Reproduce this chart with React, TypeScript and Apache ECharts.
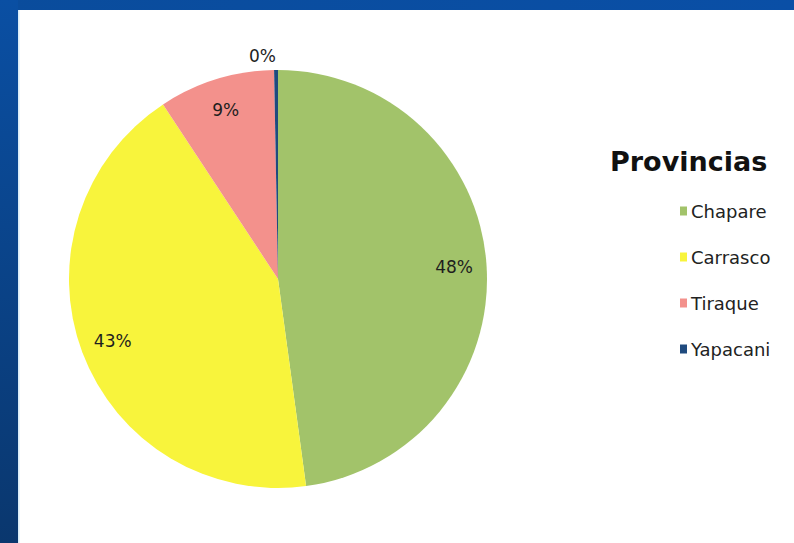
import React, { useEffect, useRef } from "react";
import * as echarts from "echarts";

const categories = ["Chapare", "Carrasco", "Tiraque", "Yapacani"];
const values = [48, 43, 9, 0.3];
const colors = ["#a2c36a", "#f8f43c", "#f3918c", "#1f4a7e"];
const legendTitle = "Provincias";

export default function App() {
  const ref = useRef<HTMLDivElement>(null);
  useEffect(() => {
    if (!ref.current) return;
    const chart = echarts.init(ref.current, null, { renderer: "svg" });
    const data = categories.map((name, i) => ({
      name,
      value: values[i],
      itemStyle: { color: colors[i] },
    }));
    const R = 209;
    const labelFmt = (p: any) => Math.round(p.percent) + "%";
    chart.setOption({
      animation: false,
      backgroundColor: "#ffffff",
      graphic: [
        {
          type: "rect",
          shape: { x: 0, y: 0, width: 794, height: 10 },
          style: {
            fill: new echarts.graphic.LinearGradient(0, 0, 1, 0, [
              { offset: 0, color: "#0a4c9c" },
              { offset: 1, color: "#0a4fa6" },
            ]),
          },
          silent: true,
        },
        {
          type: "rect",
          shape: { x: 0, y: 0, width: 18, height: 543 },
          style: {
            fill: new echarts.graphic.LinearGradient(0, 0, 0, 1, [
              { offset: 0, color: "#0a4fa3" },
              { offset: 1, color: "#0a376e" },
            ]),
          },
          silent: true,
        },
        {
          type: "rect",
          shape: { x: 18, y: 10, width: 1.5, height: 533 },
          style: { fill: "#d8ecf8" },
          silent: true,
        },
      ],
      title: {
        text: legendTitle,
        left: 605,
        top: 143,
        textStyle: {
          fontFamily: "DejaVu Sans, sans-serif",
          fontWeight: "bold",
          fontSize: 27,
          color: "#111111",
        },
      },
      legend: {
        orient: "vertical",
        left: 675,
        top: 197,
        itemWidth: 7,
        itemHeight: 9,
        itemGap: 28,
        icon: "rect",
        data: categories,
        textStyle: {
          fontFamily: "DejaVu Sans, sans-serif",
          fontSize: 18,
          color: "#222222",
          padding: [0, 0, 0, -1],
        },
      },
      series: [
        {
          type: "pie",
          center: [278, 279],
          radius: [0, R],
          startAngle: 90,
          clockwise: true,
          data,
          label: { show: false },
          labelLine: { show: false },
          itemStyle: { borderWidth: 0 },
          emphasis: { disabled: true },
          silent: true,
        },
        {
          type: "pie",
          center: [278, 279],
          radius: [R * 0.66, R],
          startAngle: 90,
          clockwise: true,
          silent: true,
          emphasis: { disabled: true },
          data: categories.map((name, i) => ({
            name,
            value: values[i],
            itemStyle: { color: "rgba(0,0,0,0)" },
            label:
              i === 3
                ? { position: "outside", distanceToLabelLine: 0 }
                : { position: "inside" },
            labelLine: { show: false, length: 14, length2: 0 },
          })),
          label: {
            show: true,
            formatter: labelFmt,
            fontFamily: "DejaVu Sans, sans-serif",
            fontSize: 17,
            color: "#1e1e1e",
          },
          labelLine: { show: false },
        },
      ],
    });
    return () => chart.dispose();
  }, []);
  return (
    <div
      ref={ref}
      style={{ position: "absolute", left: 0, top: 0, width: 794, height: 543 }}
    />
  );
}
